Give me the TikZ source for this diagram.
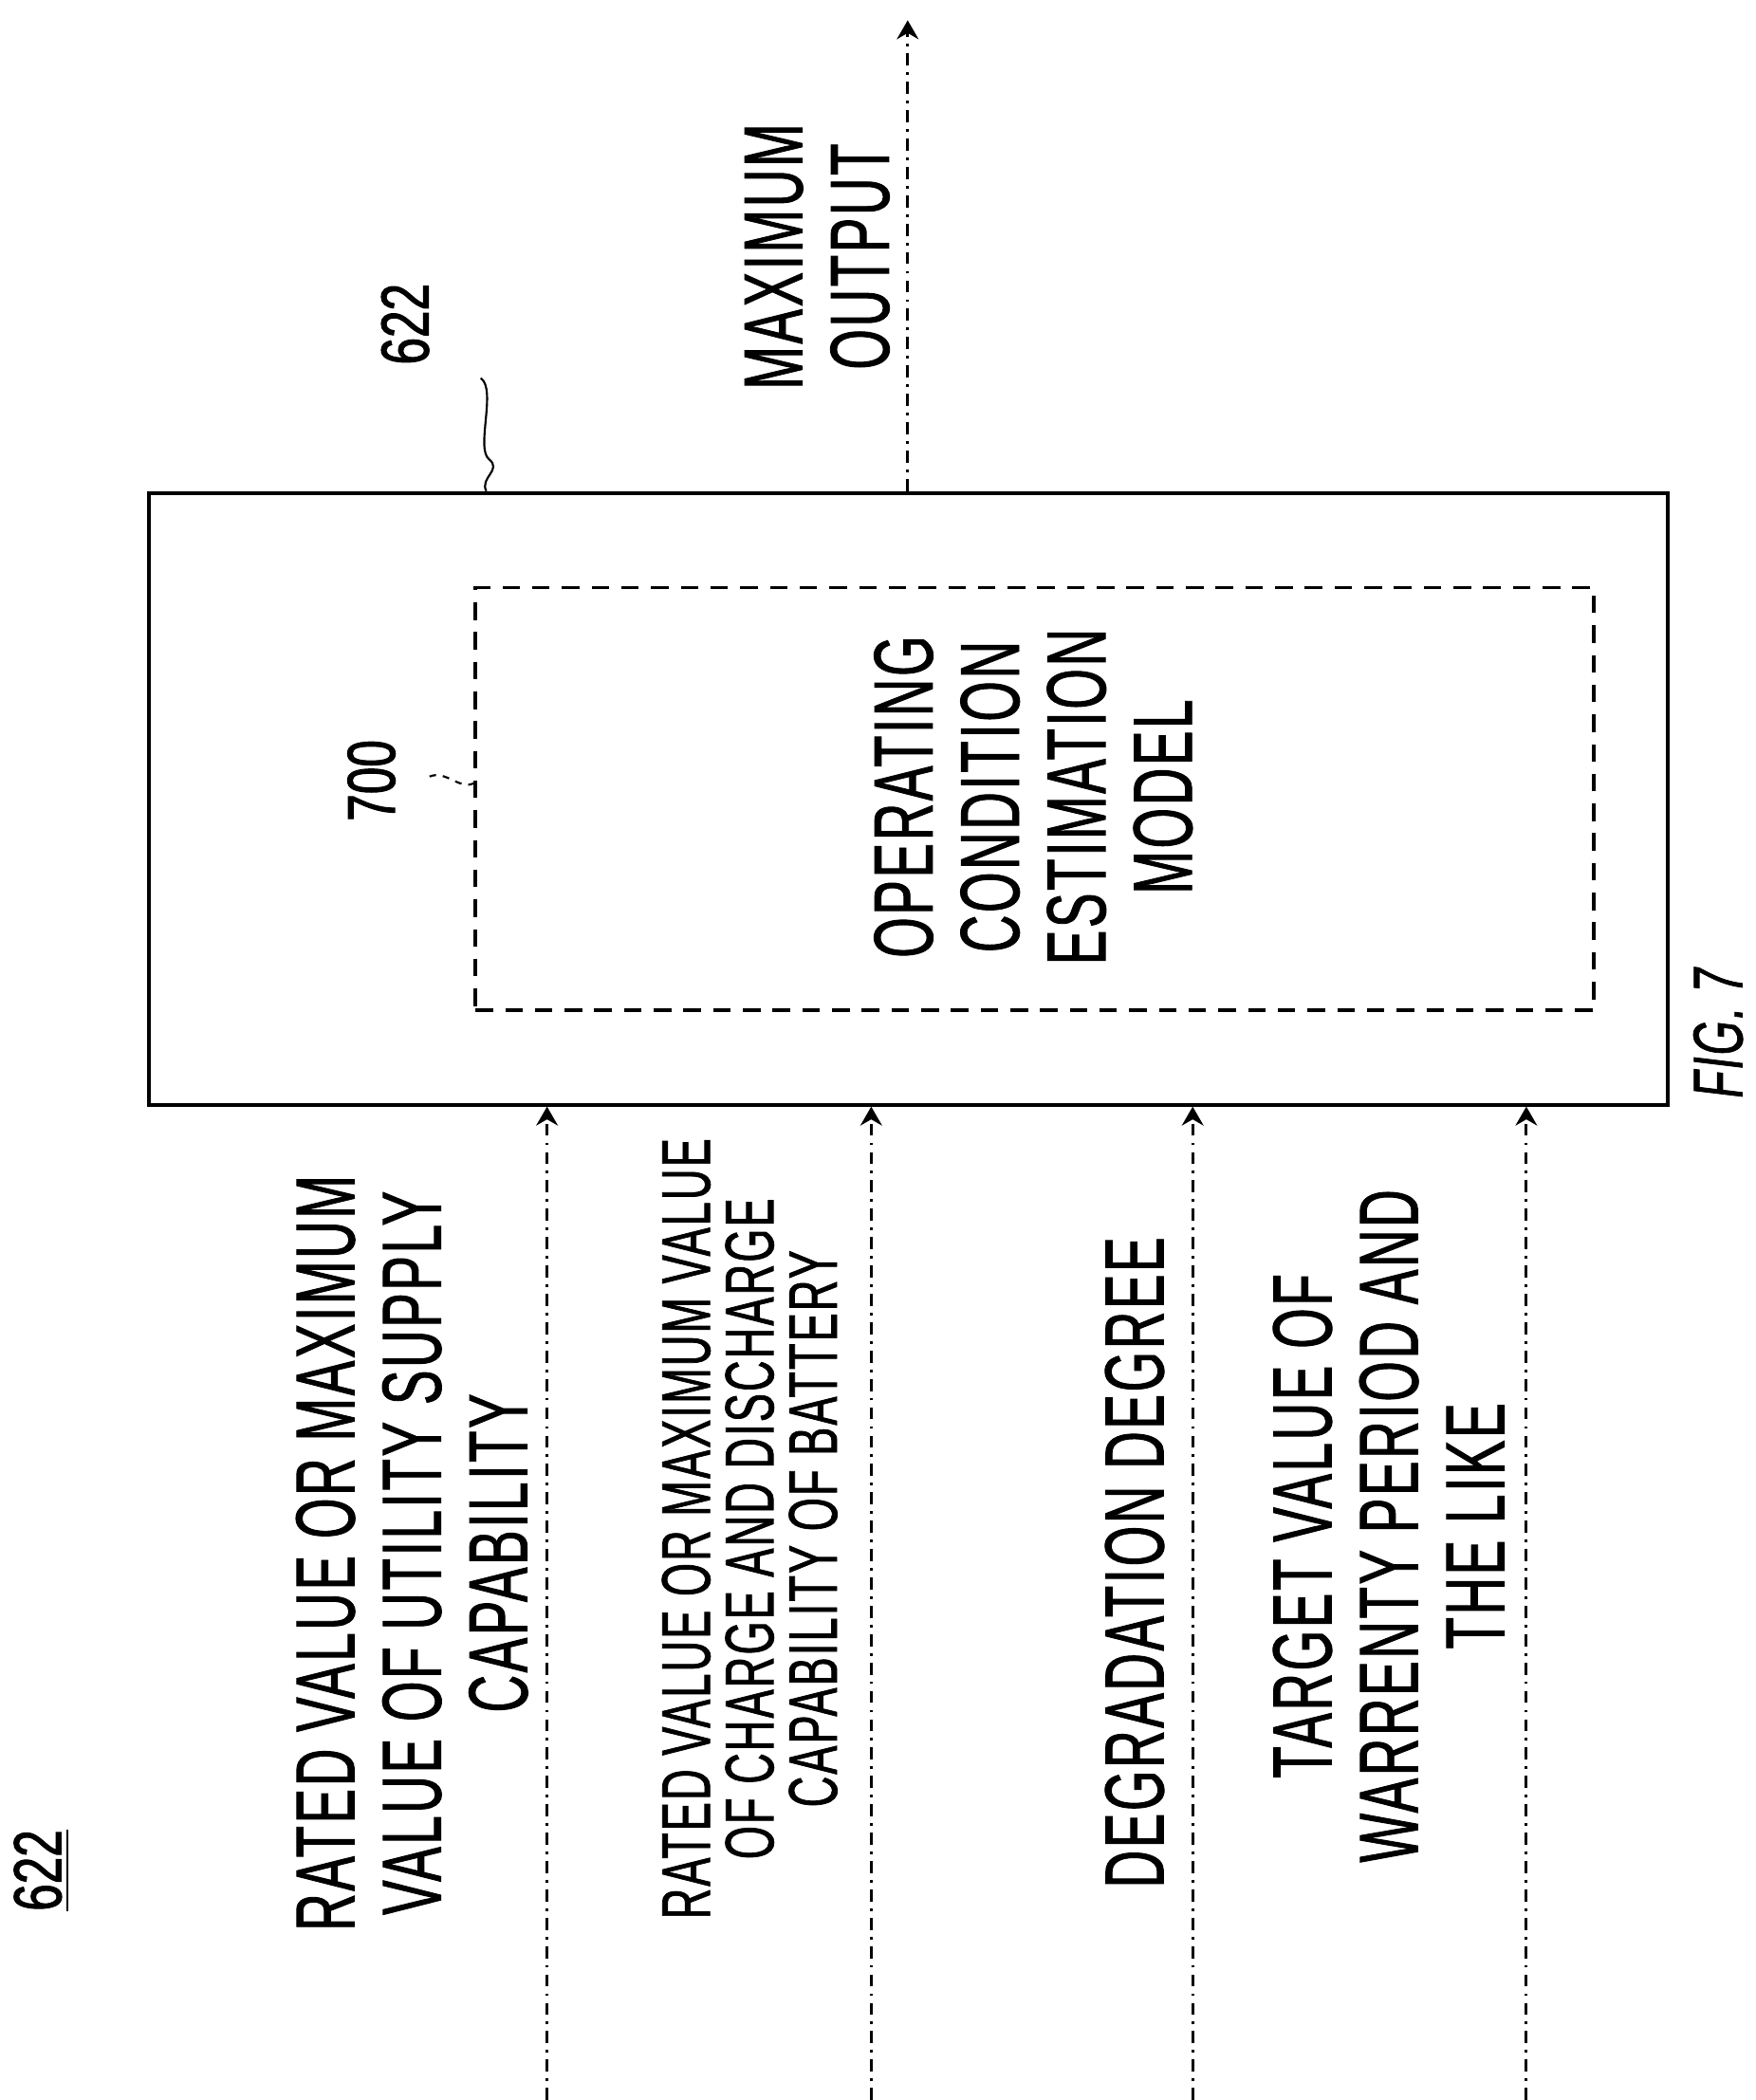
\documentclass[tikz,border=0pt]{standalone}
\usepackage{fontspec}
\usetikzlibrary{arrows.meta,decorations.pathmorphing}
\newfontfamily\cond[FakeStretch=0.62,FakeBold=1,LetterSpace=3]{Liberation Sans}
\newfontfamily\condb[FakeStretch=0.72,FakeBold=1.5]{Liberation Sans}
\begin{document}
\begin{tikzpicture}[x=1pt,y=-1pt,
  lbl/.style={rotate=90,align=center,inner sep=0pt,font=\cond\fontsize{62}{64}\selectfont},
  lblsmall/.style={rotate=90,align=center,inner sep=0pt,font=\cond\fontsize{51}{47}\selectfont},
  refnum/.style={rotate=90,inner sep=0pt,font=\condb\fontsize{50}{50}\selectfont},
  flow/.style={line width=2.2pt,dash pattern=on 9pt off 5pt on 2pt off 5pt,-{Stealth[length=14pt,width=16pt]}},
  blk/.style={draw,line width=2.8pt,inner sep=0pt},
  dbox/.style={draw,line width=2.4pt,dash pattern=on 13pt off 9pt,inner sep=0pt}]
\useasboundingbox (0,0) rectangle (1300,1555);
\node[blk,minimum width=1125pt,minimum height=453pt] (box) at (672.5,591.5) {};
\node[dbox,minimum width=828pt,minimum height=313pt] (model) at (766,591.5) {};
\node[lbl] (mtext) at (765,590) {OPERATING\\CONDITION\\ESTIMATION\\MODEL};
\node[refnum] (r622) at (300,240) {622};
\node[refnum] (r700) at (275,578) {700};
\draw[line width=1.5pt] (r622.south) ++(38,40) coordinate (l1) .. controls +(12,8) and +(-10,-8) .. (362,340) .. controls +(10,8) and +(-5,-10) .. (box.north -| 360,0);
\draw[line width=1.5pt,dash pattern=on 5pt off 5pt] (318,575) .. controls (330,570) and (340,585) .. (model.west |- 0,580);
% output
\coordinate (outend) at (672,15);
\draw[flow] (box.north -| outend) -- (outend);
\node[lbl] (mo) at (605,190) {MAXIMUM\\OUTPUT};
% inputs
\foreach \n/\x in {1/405,2/645,3/883,4/1130}{
  \coordinate (in\n) at (\x,1555);
  \draw[flow] (in\n) -- (in\n |- box.south);
}
\node[lbl] (g1) at (305,1150) {RATED VALUE OR MAXIMUM\\VALUE OF UTILITY SUPPLY\\CAPABILITY};
\node[lblsmall] (g2) at (555,1132) {RATED VALUE OR MAXIMUM VALUE\\OF CHARGE AND DISCHARGE\\CAPABILITY OF BATTERY};
\node[lbl] (g3) at (840,1157) {DEGRADATION DEGREE};
\node[lbl] (g4) at (1028,1130) {TARGET VALUE OF\\WARRENTY PERIOD AND\\THE LIKE};
\node[refnum] (r622b) at (28,1385) {622};
\draw[line width=2pt] ([xshift=4pt]r622b.south east) -- ([xshift=4pt]r622b.south west);
\node[rotate=90,inner sep=0pt,font=\cond\itshape\fontsize{52}{52}\selectfont] (fig) at (1272,765) {FIG. 7};
\end{tikzpicture}
\end{document}
